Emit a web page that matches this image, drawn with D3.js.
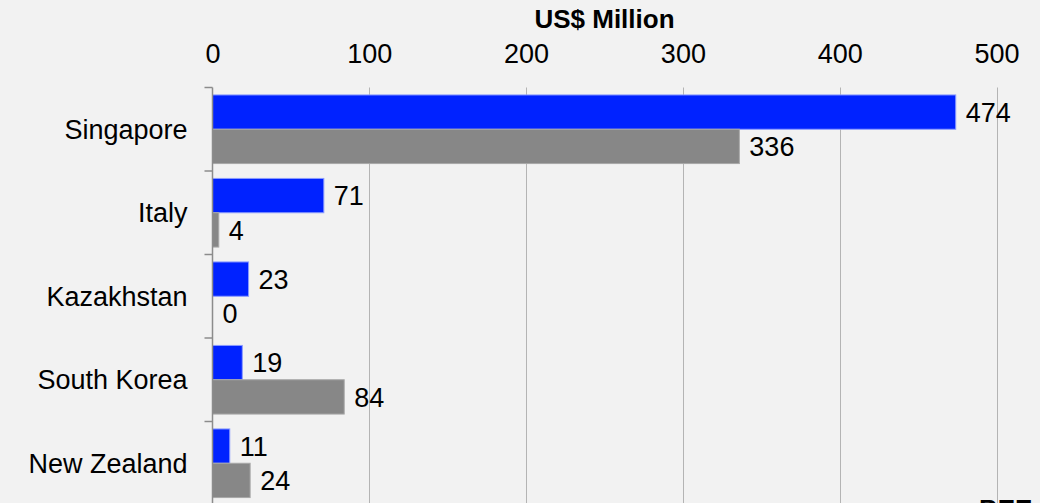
<!DOCTYPE html>
<html>
<head>
<meta charset="utf-8">
<script src="https://cdn.jsdelivr.net/npm/d3@7"></script>
<style>
  html, body { margin: 0; padding: 0; background: #f2f2f2; overflow: hidden; }
  svg { display: block; }
  text { font-family: "Liberation Sans", Arial, sans-serif; fill: #000; }
</style>
</head>
<body>
<svg id="chart" width="1040" height="503"></svg>
<script>
const categories = ["Singapore", "Italy", "Kazakhstan", "South Korea", "New Zealand"];
const seriesNames = ["Series A", "Series B"];
const seriesA = [474, 71, 23, 19, 11];
const seriesB = [336, 4, 0, 84, 24];
const xTicks = [0, 100, 200, 300, 400, 500];
const axisTitle = "US$ Million";
const colors = ["#0022ff", "#878787"];
const strokes = ["#8a9bff", "#a8a8a8"];

(function () {
const W = 1040, H = 503;
const mLeft = 212.5, mRight = 996.5, mTop = 87.5, mBottom = 505;
const svg = d3.select("#chart");
svg.append("rect").attr("width", W).attr("height", H).attr("fill", "#f2f2f2");

const x = d3.scaleLinear().domain([0, 500]).range([mLeft, mRight]);
const y = d3.scaleBand().domain(categories).range([mTop, mBottom]).padding(0);
const yi = d3.scaleBand().domain(seriesNames).range([0, y.bandwidth()]).paddingInner(0).paddingOuter(0.217);

const rows = categories.map((c, i) => ({ cat: c, vals: [seriesA[i], seriesB[i]] }));

// gridlines
svg.append("g").selectAll("line").data(xTicks.slice(1)).join("line")
  .attr("x1", d => Math.round(x(d)) + 0.5).attr("x2", d => Math.round(x(d)) + 0.5)
  .attr("y1", mTop).attr("y2", mBottom)
  .attr("stroke", "#b4b4b4").attr("stroke-width", 1);

// top axis labels
const xAxis = d3.axisTop(x).tickValues(xTicks).tickSize(0).tickPadding(0);
const gx = svg.append("g").attr("transform", `translate(0,63)`).call(xAxis);
gx.select(".domain").remove();
gx.selectAll("text").attr("font-size", 27).attr("dy", 0).attr("fill", "#000")
  .style("font-family", '"Liberation Sans", Arial, sans-serif');

// axis title
svg.append("text").attr("x", (mLeft + mRight) / 2).attr("y", 28)
  .attr("text-anchor", "middle").attr("font-size", 26).attr("font-weight", "bold")
  .text(axisTitle);

// bars
const groups = svg.append("g").selectAll("g").data(rows).join("g")
  .attr("transform", d => `translate(0,${y(d.cat)})`);

groups.selectAll("rect").data(d => d.vals.map((v, j) => ({ v, s: seriesNames[j], j }))).join("rect")
  .attr("x", x(0))
  .attr("y", d => yi(d.s))
  .attr("width", d => x(d.v) - x(0))
  .attr("height", yi.bandwidth())
  .attr("fill", d => colors[d.j])
  .attr("stroke", d => d.v > 0 ? strokes[d.j] : "none")
  .attr("stroke-width", 1);

groups.selectAll("text").data(d => d.vals.map((v, j) => ({ v, s: seriesNames[j], j }))).join("text")
  .attr("x", d => x(d.v) + 10)
  .attr("y", d => yi(d.s) + yi.bandwidth() / 2)
  .attr("dy", "0.36em")
  .attr("font-size", 27)
  .text(d => d.v);

// left axis
const yAxis = d3.axisLeft(y).tickSize(0).tickPadding(25);
const gy = svg.append("g").attr("transform", `translate(${mLeft},0)`).call(yAxis);
gy.select(".domain").remove();
gy.selectAll("text").attr("font-size", 27).attr("dy", "0.36em").attr("fill", "#000")
  .style("font-family", '"Liberation Sans", Arial, sans-serif');

svg.append("line").attr("x1", mLeft).attr("x2", mLeft).attr("y1", mTop).attr("y2", mBottom)
  .attr("stroke", "#8c8c8c").attr("stroke-width", 1.5);

const bounds = categories.map(c => y(c)).concat([y(categories[categories.length - 1]) + y.step()]);
svg.append("g").selectAll("line").data(bounds).join("line")
  .attr("x1", mLeft - 8).attr("x2", mLeft)
  .attr("y1", d => d).attr("y2", d => d)
  .attr("stroke", "#8c8c8c").attr("stroke-width", 1.5);

// partially visible watermark
svg.append("text").attr("x", 979).attr("y", 518).attr("font-size", 26)
  .attr("font-weight", "bold").text("BEE");
})();
</script>
</body>
</html>
